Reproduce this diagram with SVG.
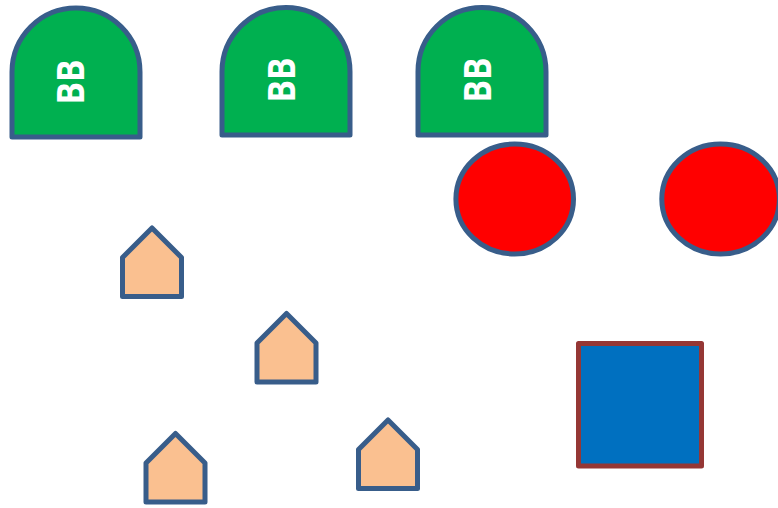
<svg xmlns="http://www.w3.org/2000/svg" width="778" height="508" viewBox="0 0 778 508">
<style>
.arch{fill:#00B050;stroke:#385D8A;stroke-width:5;stroke-linejoin:round}
.lbl{fill:#FFFFFF;font-family:"Open Sans","Liberation Sans",sans-serif;font-weight:bold;font-size:38px;text-anchor:middle}
.oval{fill:#FF0000;stroke:#385D8A;stroke-width:5}
.house{fill:#FAC090;stroke:#385D8A;stroke-width:5;stroke-linejoin:round}
.sq{fill:#0070C0;stroke:#953735;stroke-width:5;stroke-linejoin:round}
</style>
<rect width="778" height="508" fill="#FFFFFF"/>
<g id="arch1"><path class="arch" d="M12,137 L12,72 A64,64 0 0 1 140,72 L140,137 Z"/><text class="lbl" transform="translate(84,82) rotate(-90)" textLength="45" lengthAdjust="spacingAndGlyphs">BB</text></g>
<g id="arch2"><path class="arch" d="M222,135 L222,71.5 A64,64 0 0 1 350,71.5 L350,135 Z"/><text class="lbl" transform="translate(295,80) rotate(-90)" textLength="45" lengthAdjust="spacingAndGlyphs">BB</text></g>
<g id="arch3"><path class="arch" d="M418,135 L418,71.5 A64,64 0 0 1 546,71.5 L546,135 Z"/><text class="lbl" transform="translate(490.5,80) rotate(-90)" textLength="45" lengthAdjust="spacingAndGlyphs">BB</text></g>
<g id="oval1"><ellipse class="oval" cx="514.7" cy="199" rx="58.8" ry="55"/></g>
<g id="oval2"><ellipse class="oval" cx="720.6" cy="199" rx="58.8" ry="55"/></g>
<g id="house1"><path class="house" d="M122.5,257.5 L152,228 L181.5,257.5 L181.5,296.5 L122.5,296.5 Z"/></g>
<g id="house2"><path class="house" d="M257,343 L286.5,313.5 L316,343 L316,382 L257,382 Z"/></g>
<g id="house3"><path class="house" d="M146,463 L175.5,433.5 L205,463 L205,502 L146,502 Z"/></g>
<g id="house4"><path class="house" d="M358.5,449.5 L388,420 L417.5,449.5 L417.5,488.5 L358.5,488.5 Z"/></g>
<g id="square"><rect class="sq" x="578.5" y="343.5" width="123" height="122.5"/></g>
<g id="connectors"></g>
</svg>
